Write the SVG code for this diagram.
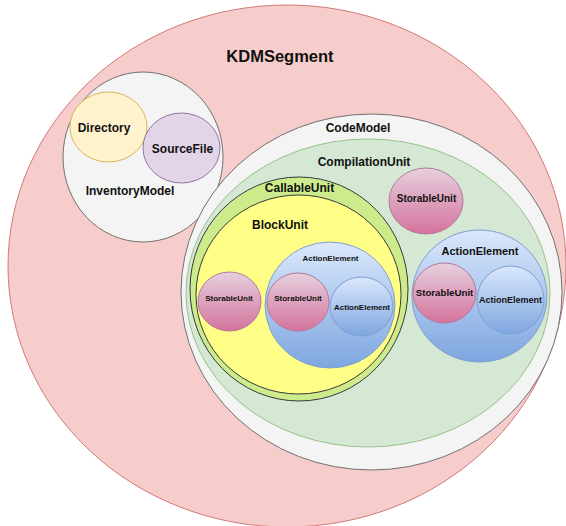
<svg xmlns="http://www.w3.org/2000/svg" width="566" height="526" viewBox="0 0 566 526">
<defs>
<linearGradient id="gStor" x1="0" y1="0" x2="0" y2="1"><stop offset="0" stop-color="#e6d0de"/><stop offset="1" stop-color="#d5739d"/></linearGradient>
<linearGradient id="gAE" x1="0" y1="0" x2="0" y2="1"><stop offset="0" stop-color="#dae8fc"/><stop offset="1" stop-color="#7ea6e0"/></linearGradient>
<style>
text{font-family:"Liberation Sans",Arial,sans-serif;font-weight:bold;fill:#111;text-anchor:middle}
.kdm{fill:#f7cdcc;stroke:#d07a77;stroke-width:1}
.gray{fill:#f4f4f4;stroke:#707070;stroke-width:1}
.dir{fill:#fff2cc;stroke:#d6b656;stroke-width:1}
.src{fill:#e1d5e7;stroke:#9673a6;stroke-width:1}
.comp{fill:#d5e8d4;stroke:#97c28a;stroke-width:1}
.call{fill:#cdeb8b;stroke:#36393d;stroke-width:1}
.block{fill:#ffff88;stroke:#36393d;stroke-width:1}
.stor{fill:url(#gStor);stroke:#b07a98;stroke-width:1}
.ae{fill:url(#gAE);stroke:#7f9fcf;stroke-width:1}
</style>
</defs>
<g id="KDMSegment">
<ellipse class="kdm" cx="287" cy="266" rx="279" ry="261"/>
<text x="280" y="62" font-size="16.5">KDMSegment</text>
</g>
<g id="InventoryModel">
<ellipse class="gray" cx="143" cy="157" rx="80" ry="85"/>
<text x="130" y="195" font-size="12">InventoryModel</text>
</g>
<g id="Directory">
<ellipse class="dir" cx="108.5" cy="127" rx="38.5" ry="35"/>
<text x="104" y="132" font-size="12">Directory</text>
</g>
<g id="SourceFile">
<ellipse class="src" cx="181.5" cy="148" rx="38.5" ry="35"/>
<text x="182.5" y="152.5" font-size="12">SourceFile</text>
</g>
<g id="CodeModel">
<ellipse class="gray" cx="371.5" cy="292" rx="190.5" ry="178"/>
<text x="358" y="132" font-size="12">CodeModel</text>
</g>
<g id="CompilationUnit">
<ellipse class="comp" cx="368" cy="293" rx="182" ry="154"/>
<text x="364" y="166" font-size="12">CompilationUnit</text>
</g>
<g id="CallableUnit">
<ellipse class="call" cx="299" cy="289" rx="109" ry="112"/>
<text x="299.5" y="191.5" font-size="12">CallableUnit</text>
</g>
<g id="BlockUnit">
<ellipse class="block" cx="298.5" cy="294.5" rx="102.5" ry="99.5"/>
<text x="280" y="228.5" font-size="12">BlockUnit</text>
</g>
<g id="StorableUnit1">
<ellipse class="stor" cx="229.5" cy="301.5" rx="31.5" ry="29.5"/>
<text x="229" y="300.5" font-size="8">StorableUnit</text>
</g>
<g id="ActionElement1">
<ellipse class="ae" cx="330" cy="305" rx="65" ry="63"/>
<text x="330.5" y="260.5" font-size="8">ActionElement</text>
</g>
<g id="StorableUnit2">
<ellipse class="stor" cx="298" cy="302" rx="31" ry="29"/>
<text x="298" y="301" font-size="8">StorableUnit</text>
</g>
<g id="ActionElement2">
<ellipse class="ae" cx="361.5" cy="306.5" rx="31.5" ry="29.5"/>
<text x="362" y="310" font-size="8">ActionElement</text>
</g>
<g id="StorableUnit3">
<ellipse class="stor" cx="426" cy="201" rx="37" ry="33"/>
<text x="426.5" y="201.5" font-size="10">StorableUnit</text>
</g>
<g id="ActionElement3">
<ellipse class="ae" cx="479.5" cy="296" rx="67.5" ry="66"/>
<text x="480" y="255" font-size="11">ActionElement</text>
</g>
<g id="StorableUnit4">
<ellipse class="stor" cx="444.5" cy="293" rx="31.5" ry="30"/>
<text x="444.5" y="296" font-size="9.7">StorableUnit</text>
</g>
<g id="ActionElement4">
<ellipse class="ae" cx="510.5" cy="300" rx="33.5" ry="34"/>
<text x="510.5" y="302.5" font-size="9">ActionElement</text>
</g>
<g id="connectors"/>
</svg>
